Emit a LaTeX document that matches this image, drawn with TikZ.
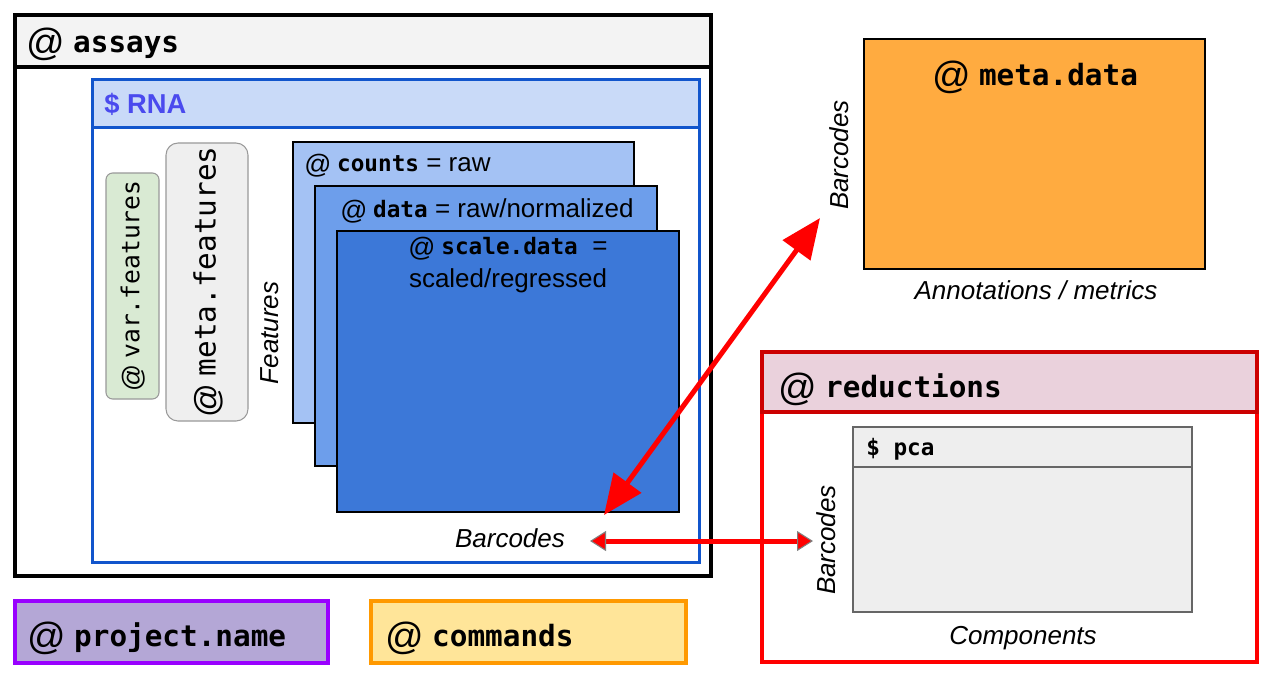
\documentclass[tikz,border=0pt]{standalone}
\usepackage{fontspec}
\setmainfont{Liberation Sans}
\setsansfont{Liberation Sans}
\setmonofont{DejaVu Sans Mono}
\usepackage{tikz}
\usetikzlibrary{positioning,arrows.meta}

\definecolor{assayfill}{HTML}{F3F3F3}
\definecolor{rnaline}{HTML}{1155CC}
\definecolor{rnafill}{HTML}{C9DAF8}
\definecolor{rnatext}{HTML}{4A4AEE}
\definecolor{varfill}{HTML}{D9EAD3}
\definecolor{mfeatfill}{HTML}{EFEFEF}
\definecolor{countsfill}{HTML}{A4C2F4}
\definecolor{datafill}{HTML}{6D9EEB}
\definecolor{scalefill}{HTML}{3C78D8}
\definecolor{metafill}{HTML}{FFAB40}
\definecolor{redline}{HTML}{FF0000}
\definecolor{redhead}{HTML}{CC0000}
\definecolor{redfill}{HTML}{EAD1DC}
\definecolor{pcafill}{HTML}{EEEEEE}
\definecolor{pcaline}{HTML}{666666}
\definecolor{projfill}{HTML}{B4A7D6}
\definecolor{projline}{HTML}{9900FF}
\definecolor{cmdfill}{HTML}{FFE599}
\definecolor{cmdline}{HTML}{FF9900}

% @ sign in the sans face, regular weight, with a small gap after it
\newcommand{\slotat}[1]{{\rmfamily\mdseries\fontsize{#1}{#1}\selectfont\raisebox{-0.08em}{@}\kern0.22em}}
\newcommand{\slotname}[2]{{\fontsize{#1}{#1}\selectfont\ttfamily\bfseries #2}}

\begin{document}
\begin{tikzpicture}[x=0.75pt, y=-0.75pt,
  hdr/.style={font=\fontsize{22}{26}\selectfont\ttfamily\bfseries, anchor=west, inner sep=0pt},
  txt/.style={font=\fontsize{19.5}{23}\selectfont, inner sep=0pt},
  axislbl/.style={font=\fontsize{19.5}{23}\selectfont\itshape, inner sep=0pt},
  matbox/.style={draw=black, line width=2.2pt},
  link/.style={redline, line width=3.75pt}]
\useasboundingbox (0,0) rectangle (1277,679);

% @assays
\draw[line width=3pt, fill=white] (15,15) rectangle (711,576);
\draw[line width=3pt, fill=assayfill] (15,15) rectangle (711,67);
\node[hdr] (assays) at (26,44) {\slotat{28.5}assays};

% $RNA
\draw[rnaline, line width=2.25pt] (92,79) rectangle (699,562);
\draw[rnaline, line width=2.25pt, fill=rnafill] (92,79) rectangle (699,127);
\node[txt, anchor=west, font=\fontsize{20.5}{24}\selectfont\bfseries, text=rnatext] (rna) at (104,104) {\$ RNA};

\draw[gray!80, fill=varfill, rounded corners=5pt, line width=0.8pt] (106,173) rectangle (159,399);
\node[rotate=90, inner sep=0pt] (varfeat) at (133,286)
  {\slotat{20}{\fontsize{18.5}{20}\selectfont\ttfamily var.features}};
\draw[gray!80, fill=mfeatfill, rounded corners=9pt, line width=0.8pt] (166,143) rectangle (248,421);
\node[rotate=90, inner sep=0pt] (metafeat) at (208,282)
  {\slotat{25}{\fontsize{22}{24}\selectfont\ttfamily meta.features}};
\node[axislbl, rotate=90] (featlbl) at (270,333) {Features};

% matrices
\draw[matbox, fill=countsfill] (293,142) rectangle (634,423);
\node[txt, anchor=west] (counts) at (304,166) {\slotat{20}\slotname{17}{counts} = raw};
\draw[matbox, fill=datafill] (315,186) rectangle (657,466);
\node[txt, anchor=west] (data) at (340,211) {\slotat{20}\slotname{17}{data} = raw/normalized};
\draw[matbox, fill=scalefill] (337,231) rectangle (679,512);
\node[txt, align=center, anchor=north] (scale) at (508,237)
  {\slotat{20}\slotname{17}{scale.data} \ =\\[2pt] scaled/regressed};
\node[axislbl] (bcRNA) at (510,538) {Barcodes};

% @meta.data
\draw[matbox, fill=metafill] (864,39) rectangle (1205,269);
\node[hdr, anchor=center] (meta) at (1035,77) {\slotat{28.5}meta.data};
\node[axislbl, rotate=90] (bcMeta) at (839,155) {Barcodes};
\node[axislbl] (annot) at (1036,290) {Annotations / metrics};

% @reductions
\draw[redline, line width=3pt] (762,352) rectangle (1257,662);
\draw[redhead, line width=3pt, fill=redfill] (762,352) rectangle (1257,412);
\node[hdr] (reduct) at (778,389) {\slotat{28.5}reductions};
\draw[pcaline, line width=2.2pt, fill=pcafill] (853,427) rectangle (1192,612);
\draw[pcaline, line width=2.2pt] (853,467) -- (1192,467);
\node[anchor=west, inner sep=0pt] (pca) at (866,449) {\slotname{17}{\$ pca}};
\node[axislbl, rotate=90] (bcRed) at (826,540) {Barcodes};
\node[axislbl] (comps) at (1023,638) {Components};

% other slots
\draw[projline, line width=3pt, fill=projfill] (15,601) rectangle (328,663);
\node[hdr] (proj) at (27,638) {\slotat{28.5}project.name};
\draw[cmdline, line width=3pt, fill=cmdfill] (371,601) rectangle (686,663);
\node[hdr] (cmds) at (385,638) {\slotat{28.5}commands};

% links
\coordinate (rnaTip) at (604,515);
\coordinate (metaTip) at (820,218);
\coordinate (rnaSide) at (590,541);
\coordinate (redSide) at (813,541);
\draw[link, {Triangle[length=30pt,width=25pt]}-{Triangle[length=30pt,width=25pt]}] (rnaTip) -- (metaTip);
\draw[link, {Triangle[length=12pt,width=15pt,line width=0.8pt,color=gray,fill=redline]}-{Triangle[length=12pt,width=15pt,line width=0.8pt,color=gray,fill=redline]}] (rnaSide) -- (redSide);
\end{tikzpicture}
\end{document}
